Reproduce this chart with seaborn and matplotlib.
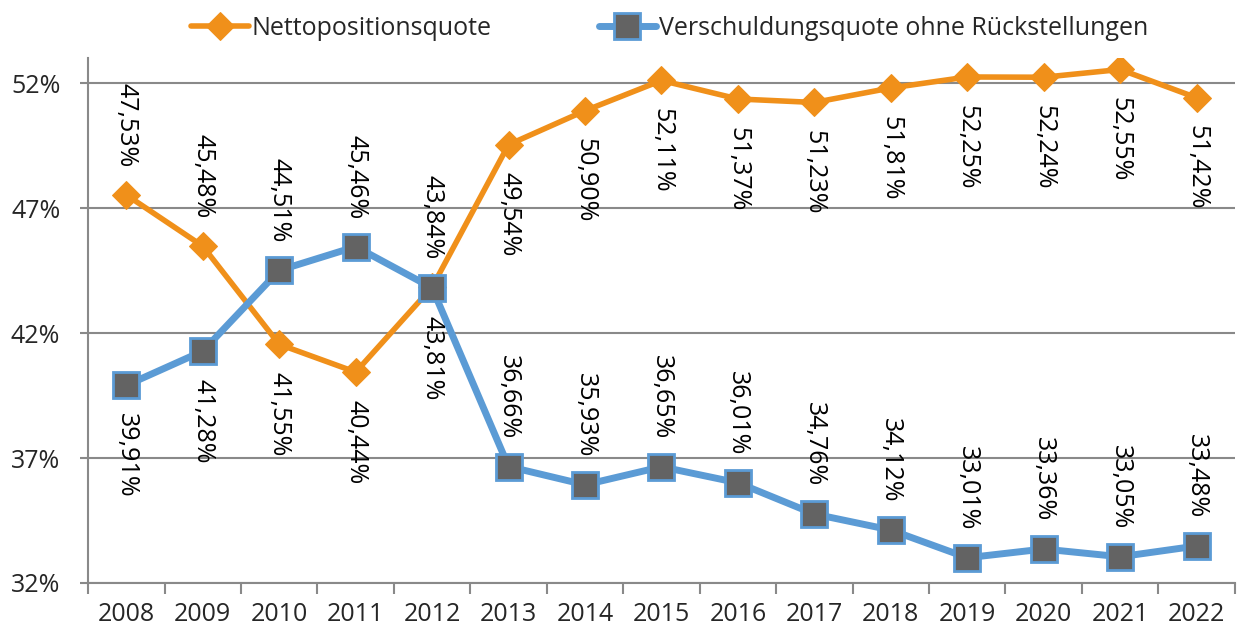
import pandas as pd
import seaborn as sns
import matplotlib.pyplot as plt
from matplotlib.ticker import FuncFormatter

# Data
years = ["2008", "2009", "2010", "2011", "2012", "2013", "2014", "2015",
         "2016", "2017", "2018", "2019", "2020", "2021", "2022"]
netto = [47.53, 45.48, 41.55, 40.44, 43.84, 49.54, 50.90, 52.11,
         51.37, 51.23, 51.81, 52.25, 52.24, 52.55, 51.42]
schulden = [39.91, 41.28, 44.51, 45.46, 43.81, 36.66, 35.93, 36.65,
            36.01, 34.76, 34.12, 33.01, 33.36, 33.05, 33.48]

# label side per point (1 = above, -1 = below)
netto_side = [1, 1, -1, -1, 1, -1, -1, -1, -1, -1, -1, -1, -1, -1, -1]
schulden_side = [-1, -1, 1, 1, -1, 1, 1, 1, 1, 1, 1, 1, 1, 1, 1]

ORANGE = "#F0901A"
BLUE = "#5B9BD5"
MARKER_GRAY = "#636363"
GRID = "#898989"
FS = 18

sns.set_theme(style="white")
plt.rcParams["font.family"] = ["Open Sans", "DejaVu Sans"]

fig = plt.figure(figsize=(12.41, 6.33), dpi=100)
ax = fig.add_axes([0.071, 0.079, 0.924, 0.829])

df = pd.DataFrame({"x": range(len(years)), "netto": netto, "schulden": schulden})

sns.lineplot(data=df, x="x", y="netto", ax=ax, color=ORANGE, lw=4,
             marker="D", markersize=14, markeredgecolor=ORANGE,
             label="Nettopositionsquote", zorder=3)
sns.lineplot(data=df, x="x", y="schulden", ax=ax, color=BLUE, lw=5,
             marker="s", markersize=19, markerfacecolor=MARKER_GRAY,
             markeredgecolor=BLUE, markeredgewidth=2,
             label="Verschuldungsquote ohne Rückstellungen", zorder=4)

# data labels, rotated like in the original
def add_labels(values, sides):
    for i, (v, s) in enumerate(zip(values, sides)):
        txt = f"{v:.2f}".replace(".", ",") + "%"
        ax.annotate(txt, (i, v), xytext=(0, 20 * s), textcoords="offset points",
                    rotation=270, ha="center", va="bottom" if s > 0 else "top",
                    fontsize=FS, color="black", zorder=5)

add_labels(netto, netto_side)
add_labels(schulden, schulden_side)

# axes
ax.set_xlim(-0.5, len(years) - 0.5)
ax.set_ylim(32, 53)
ax.set_xticks(range(len(years)))
ax.set_xticklabels(years)
ax.set_xticks([i - 0.5 for i in range(len(years) + 1)], minor=True)
ax.set_yticks([32, 37, 42, 47, 52])
ax.yaxis.set_major_formatter(FuncFormatter(lambda v, p: f"{v:.0f}%"))
ax.set_xlabel("")
ax.set_ylabel("")

ax.tick_params(axis="x", which="minor", length=8, width=1.5, color=GRID, direction="out")
ax.tick_params(axis="y", length=6, width=1.5, color=GRID, direction="out", pad=14, labelsize=FS)
ax.tick_params(bottom=True, left=True, which="both")
ax.tick_params(axis="x", which="major", length=0, pad=14, labelsize=FS)

ax.yaxis.grid(True, color=GRID, lw=1.5)
ax.set_axisbelow(True)
for side in ["top", "right"]:
    ax.spines[side].set_visible(False)
for side in ["left", "bottom"]:
    ax.spines[side].set_color(GRID)
    ax.spines[side].set_linewidth(1.5)

ax.legend(loc="lower center", bbox_to_anchor=(0.507, 1.0), ncol=2, frameon=False,
          fontsize=FS, handlelength=2.3, handletextpad=0.1, columnspacing=4.3,
          borderaxespad=0.3)

fig.savefig("out.png", dpi=100)
